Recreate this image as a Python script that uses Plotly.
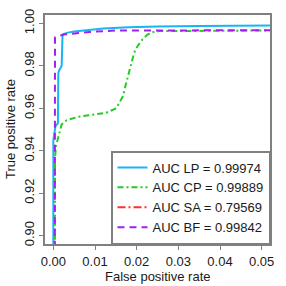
import plotly.graph_objects as go

# ROC data (zoomed region)
lp_fpr = [0, 0, 0.0005, 0.0011, 0.0012, 0.0014, 0.0020, 0.0022, 0.0024, 0.0035, 0.0050, 0.0080, 0.0120, 0.0180, 0.0250, 0.0350, 0.0450, 0.0520]
lp_tpr = [0.0, 0.945, 0.9515, 0.953, 0.9765, 0.978, 0.9800, 0.9940, 0.9950, 0.9957, 0.9962, 0.9968, 0.9976, 0.9982, 0.9986, 0.9988, 0.9990, 0.9991]

cp_fpr = [0, 0.0002, 0.0003, 0.0004, 0.0006, 0.0012, 0.0016, 0.0020, 0.0032, 0.0045, 0.0060, 0.0085, 0.0127, 0.0151, 0.0167, 0.0175, 0.0183, 0.0194, 0.0202, 0.0214, 0.0226, 0.0238, 0.0254, 0.0520]
cp_tpr = [0.0, 0.85, 0.90, 0.936, 0.942, 0.9468, 0.949, 0.9524, 0.9544, 0.9553, 0.9560, 0.9567, 0.9579, 0.9600, 0.9657, 0.9720, 0.9783, 0.9862, 0.9893, 0.9925, 0.9948, 0.9959, 0.9964, 0.9967]

sa_fpr = [0, 0.01, 0.03, 0.052]
sa_tpr = [0.0, 0.45, 0.60, 0.70]

bf_fpr = [0, 0.0003, 0.0004, 0.0024, 0.0047, 0.0087, 0.0150, 0.0520]
bf_tpr = [0.0, 0.90, 0.9934, 0.9948, 0.9953, 0.9960, 0.9967, 0.9968]

labels = ["AUC LP = 0.99974", "AUC CP = 0.99889", "AUC SA = 0.79569", "AUC BF = 0.99842"]

x_ticks = [0.00, 0.01, 0.02, 0.03, 0.04, 0.05]
y_ticks = [0.90, 0.92, 0.94, 0.96, 0.98, 1.00]

FONT = "Liberation Sans, Arial, sans-serif"
TXT = "#1a1a1a"

fig = go.Figure()
fig.add_trace(go.Scatter(x=lp_fpr, y=lp_tpr, mode="lines", name=labels[0],
                         line=dict(color="#1AB4F5", width=2, dash="solid")))
fig.add_trace(go.Scatter(x=cp_fpr, y=cp_tpr, mode="lines", name=labels[1],
                         line=dict(color="#22CC22", width=2, dash="6px,3px,2px,3px")))
fig.add_trace(go.Scatter(x=sa_fpr, y=sa_tpr, mode="lines", name=labels[2],
                         line=dict(color="#FF3030", width=2, dash="8px,3px,2px,3px")))
fig.add_trace(go.Scatter(x=bf_fpr, y=bf_tpr, mode="lines", name=labels[3],
                         line=dict(color="#A020F0", width=2, dash="7px,5px")))

axis_common = dict(showgrid=False, zeroline=False, showline=True, mirror=True,
                   linecolor="#808080", linewidth=2, ticks="outside", ticklen=4,
                   tickcolor="#808080", tickwidth=1, automargin=False,
                   tickfont=dict(family=FONT, size=13, color=TXT))

fig.update_layout(
    width=286, height=286,
    margin=dict(l=45, r=16, t=15, b=42),
    plot_bgcolor="white", paper_bgcolor="white",
    font=dict(family=FONT, size=13, color=TXT),
    xaxis=dict(range=[-0.002, 0.052], tickvals=x_ticks, tickformat=".2f", **axis_common),
    yaxis=dict(range=[0.896, 1.004], tickvals=y_ticks, tickformat=".2f", tickangle=-90,
               **axis_common),
    legend=dict(x=1, y=0, xanchor="right", yanchor="bottom", bgcolor="white",
                bordercolor="#808080", borderwidth=1.5, itemwidth=30,
                font=dict(family=FONT, size=13, color=TXT),
                tracegroupgap=0),
    showlegend=True,
    annotations=[
        dict(text="False positive rate", xref="paper", yref="paper", x=0.5, y=-0.14,
             xanchor="center", yanchor="middle", showarrow=False,
             font=dict(family=FONT, size=13, color=TXT)),
        dict(text="True positive rate", xref="paper", yref="paper", x=-0.153, y=0.5,
             xanchor="center", yanchor="middle", textangle=-90, showarrow=False,
             font=dict(family=FONT, size=13, color=TXT)),
    ],
)

fig.write_html("out.html", config={"displayModeBar": False},
               post_script="document.body.style.margin='0';document.body.style.padding='0';")
